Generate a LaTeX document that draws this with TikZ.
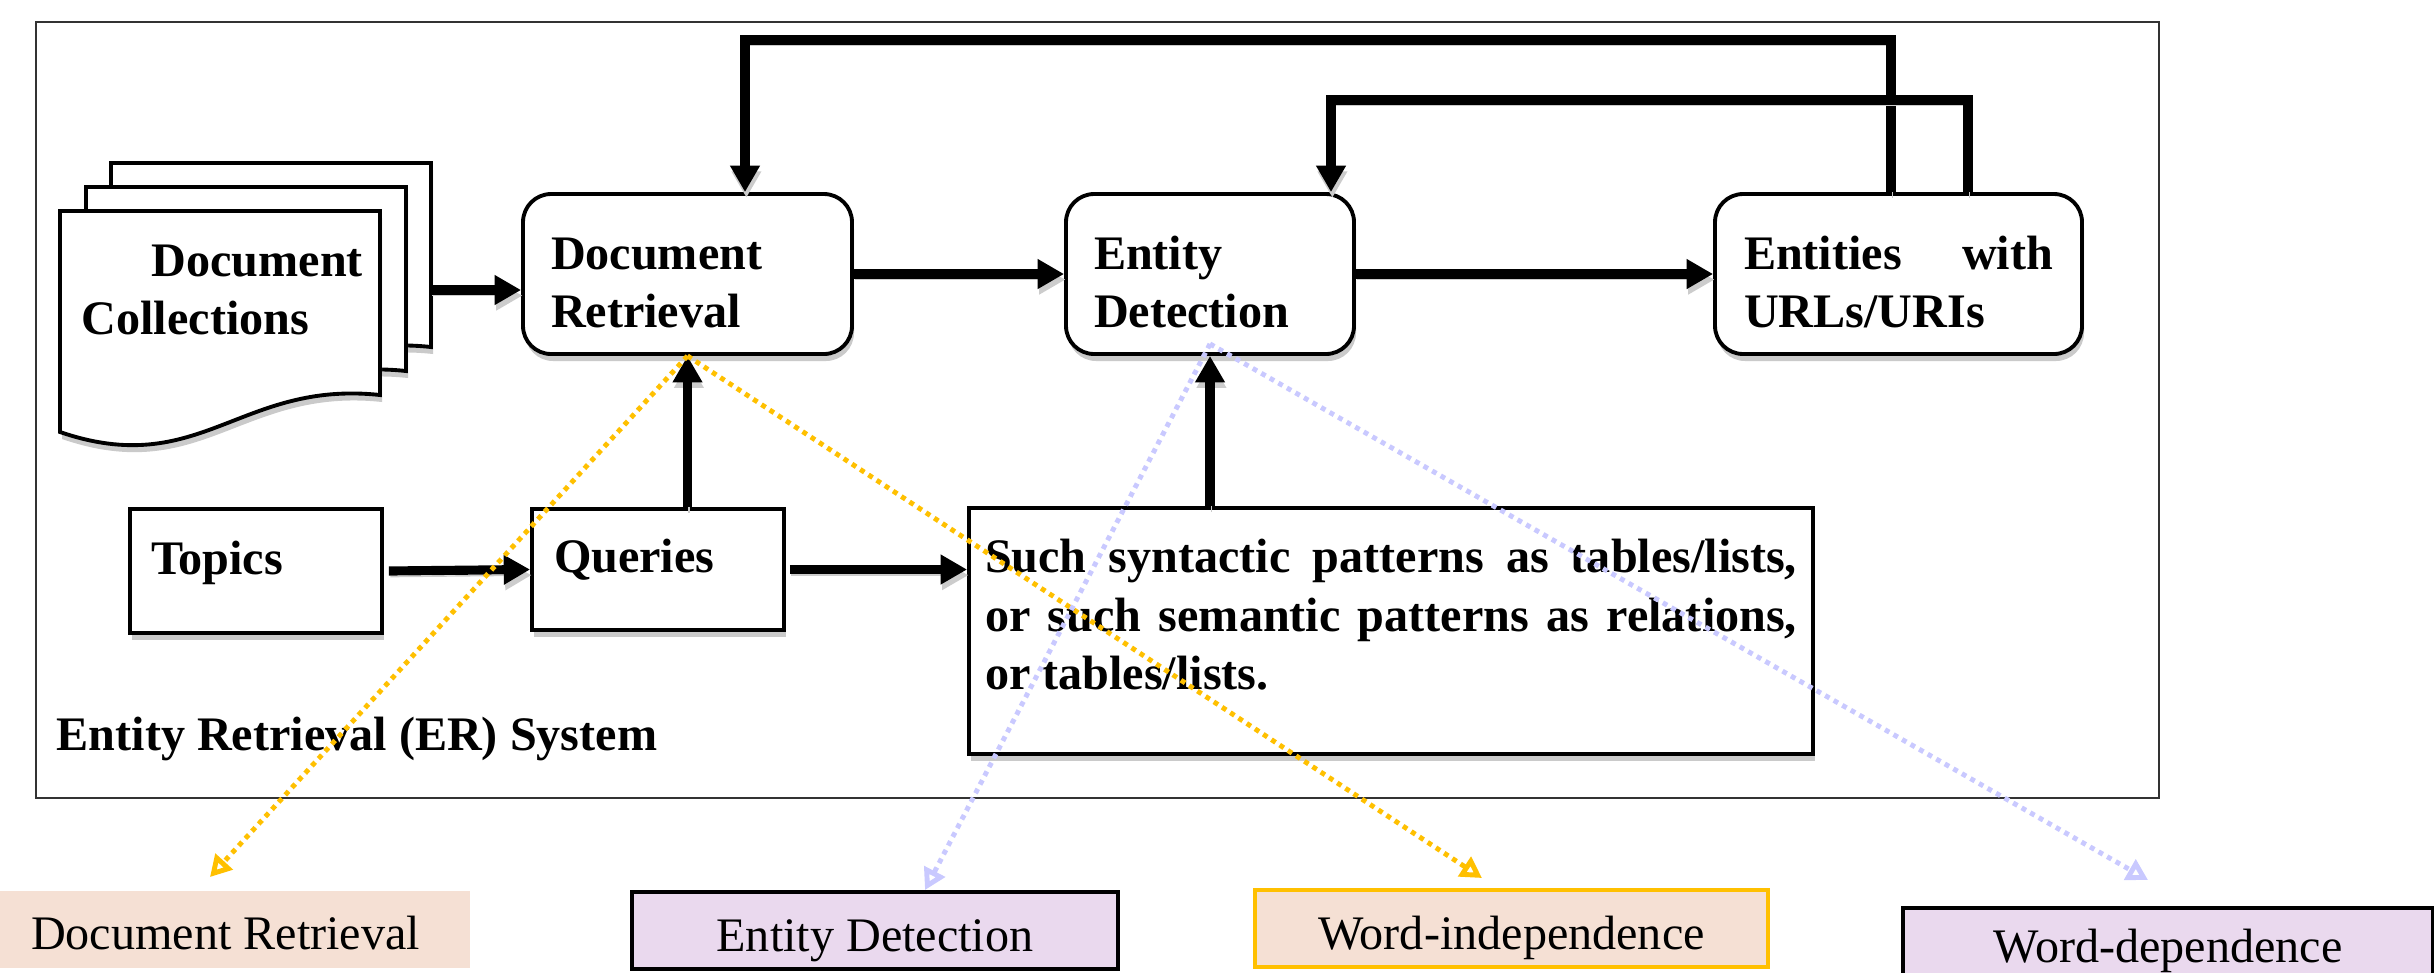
\documentclass[tikz,border=0pt]{standalone}
\usepackage{fontspec}
\setmainfont{Liberation Serif}
\usepackage{tikz}
\usetikzlibrary{calc}
\usetikzlibrary{positioning}
\usetikzlibrary{shadows}
\usetikzlibrary{arrows.meta}
\definecolor{peach}{HTML}{F5E0D4}
\definecolor{lilac}{HTML}{EAD9EE}
\definecolor{amber}{HTML}{FFC000}
\definecolor{lavnd}{HTML}{C9C9FF}
\newcommand{\fsz}{\fontsize{13.7}{16.6}\selectfont}
\newcommand{\tdown}{\rule{0pt}{0.50cm}}         % pushes box text down
\newcommand{\tup}[1]{\rule[-#1]{0pt}{#1}}       % pushes box text up
\tikzset{
  boxnode/.style = {draw=black, fill=white, line width=1.1pt, inner ysep=0pt,
    align=flush left, font=\fsz\bfseries,
    drop shadow={shadow xshift=0.02cm, shadow yshift=-0.07cm, fill=black!35, opacity=0.6}},
  box_r/.style = {boxnode, rounded corners=8pt, minimum height=1.60cm},  % rounded box
  box_s/.style = {boxnode},                                          % square box
  doc_pg/.style = {draw=black, fill=white, line width=1.1pt,
    drop shadow={shadow xshift=0.02cm, shadow yshift=-0.07cm, fill=black!35, opacity=0.6}}, % paper sheet
  lbl/.style = {font=\fsz, minimum height=0.77cm, inner sep=0pt,
    text height=0.51cm, text depth=0.10cm},
  lbl_p/.style = {lbl, fill=peach},                              % peach label
  lbl_po/.style = {lbl, fill=peach, draw=amber, line width=1pt}, % peach label, amber frame
  lbl_l/.style = {lbl, fill=lilac, draw=black, line width=0.9pt}, % lilac label
  main_arr/.style = {->, line width=2.6pt,
    preaction={draw=black!20, transform canvas={shift={(0.4pt,-1.6pt)}}}},
  dot_a/.style = {-{Triangle[open, length=6pt, width=6.5pt]}, line width=1.4pt,
    dash pattern=on 1.4pt off 1.4pt, amber},                     % amber dotted link
  dot_v/.style = {dot_a, lavnd}                                  % lavender dotted link
}

\begin{document}
\begin{tikzpicture}[>={Triangle[length=7.5pt, width=8pt]}]
  \useasboundingbox (0,0) rectangle (24.34,-9.72);
  % system frame
  \draw[black!80, line width=0.6pt] (0.36,-0.22) rectangle (21.59,-7.98);

  % document stack
  \draw[doc_pg, shift={(0.51,0.48)}] (0.60,-2.11) -- (3.80,-2.11) -- (3.80,-3.95)
    .. controls (2.40,-3.80) and (2.00,-4.80) .. (0.60,-4.32) -- cycle;
  \draw[doc_pg, shift={(0.26,0.24)}] (0.60,-2.11) -- (3.80,-2.11) -- (3.80,-3.95)
    .. controls (2.40,-3.80) and (2.00,-4.80) .. (0.60,-4.32) -- cycle;
  \draw[doc_pg] (0.60,-2.11) -- (3.80,-2.11) -- (3.80,-3.95)
    .. controls (2.40,-3.80) and (2.00,-4.80) .. (0.60,-4.32) -- cycle;
  \node[font=\fsz\bfseries, align=left, inner sep=0pt, anchor=west] (dc) at (0.81,-2.90)
    {\hspace*{0.70cm}Document\\Collections};
  \coordinate (dc_e) at (4.31,-2.90);

  \node[box_r, text width=2.73cm, inner xsep=0.28cm] (dr) at (6.875,-2.74) {\tdown Document\\Retrieval};
  \node[box_r, text width=2.32cm, inner xsep=0.28cm] (ed) at (12.10,-2.74) {\tdown Entity\\Detection};
  \node[box_r, text width=3.09cm, inner xsep=0.29cm] (ent) at (18.985,-2.74)
    {\tdown Entities\hspace{0pt plus 1fill}with\\URLs/URIs};
  \node[box_s, text width=2.10cm, inner xsep=0.21cm, minimum height=1.24cm] (tp) at (2.56,-5.71) {Topics\tup{0.27cm}};
  \node[box_s, text width=2.08cm, inner xsep=0.22cm, minimum height=1.21cm] (qr) at (6.58,-5.695) {Queries\tup{0.27cm}};
  \node[box_s, text width=8.12cm, inner xsep=0.16cm, minimum height=2.46cm, align=justify] (pt) at (13.91,-6.31)
    {Such syntactic patterns as tables/lists,\linebreak or such semantic patterns as relations,\linebreak
     or tables/lists.\tup{0.33cm}};
  \node[font=\fsz\bfseries, anchor=west, inner sep=0pt] (er) at (0.56,-7.39) {Entity Retrieval (ER) System};

  % main flow
  \draw[main_arr] (dc_e) -- (dc_e -| dr.west);
  \draw[main_arr] (dr.east) -- (ed.west);
  \draw[main_arr] (ed.east) -- (ent.west);
  \draw[main_arr] ([xshift=0.05cm]tp.east) -- (qr.west);
  \draw[main_arr] ([xshift=0.04cm]qr.east) -- (qr.east -| pt.west);
  \draw[main_arr] (qr.north -| dr.south) -- (dr.south);
  \draw[main_arr] (pt.north -| ed.south) -- (ed.south);

  % feedback loops
  \coordinate (fb1) at (18.91,-0.40);
  \coordinate (fb2) at (7.45,-0.40);
  \draw[main_arr] (ent.north -| fb1) -- (fb1) -- (fb2) -- (dr.north -| fb2);
  \coordinate (fb3) at (19.68,-1.00);
  \coordinate (fb4) at (13.31,-1.00);
  \draw[main_arr] (ent.north -| fb3) -- (fb3) -- (fb4) -- (ed.north -| fb4);

  % bottom labels
  \node[lbl_p, minimum width=4.70cm, text width=4.08cm, inner xsep=0.31cm, align=flush left] (b_dr) at (2.35,-9.29) {Document Retrieval};
  \node[lbl_l, minimum width=4.86cm] (b_ed) at (8.75,-9.305) {Entity Detection};
  \node[lbl_po, minimum width=5.13cm] (b_wi) at (15.115,-9.285) {Word-independence};
  \node[lbl_l, minimum width=5.30cm, minimum height=0.80cm, text height=0.38cm] (b_wd) at (21.68,-9.48) {Word-dependence};

  % dotted links
  \coordinate (t_dr) at (2.10,-8.77);
  \coordinate (t_wi) at (14.82,-8.78);
  \coordinate (t_ed) at (9.25,-8.90);
  \coordinate (t_wd) at (21.48,-8.80);
  \draw[dot_a] (dr.south) -- (t_dr);
  \draw[dot_a] (dr.south) -- (t_wi);
  \draw[dot_v] ([yshift=0.12cm]ed.south) -- (t_ed);
  \draw[dot_v] ([yshift=0.12cm]ed.south) -- (t_wd);
\end{tikzpicture}
\end{document}
